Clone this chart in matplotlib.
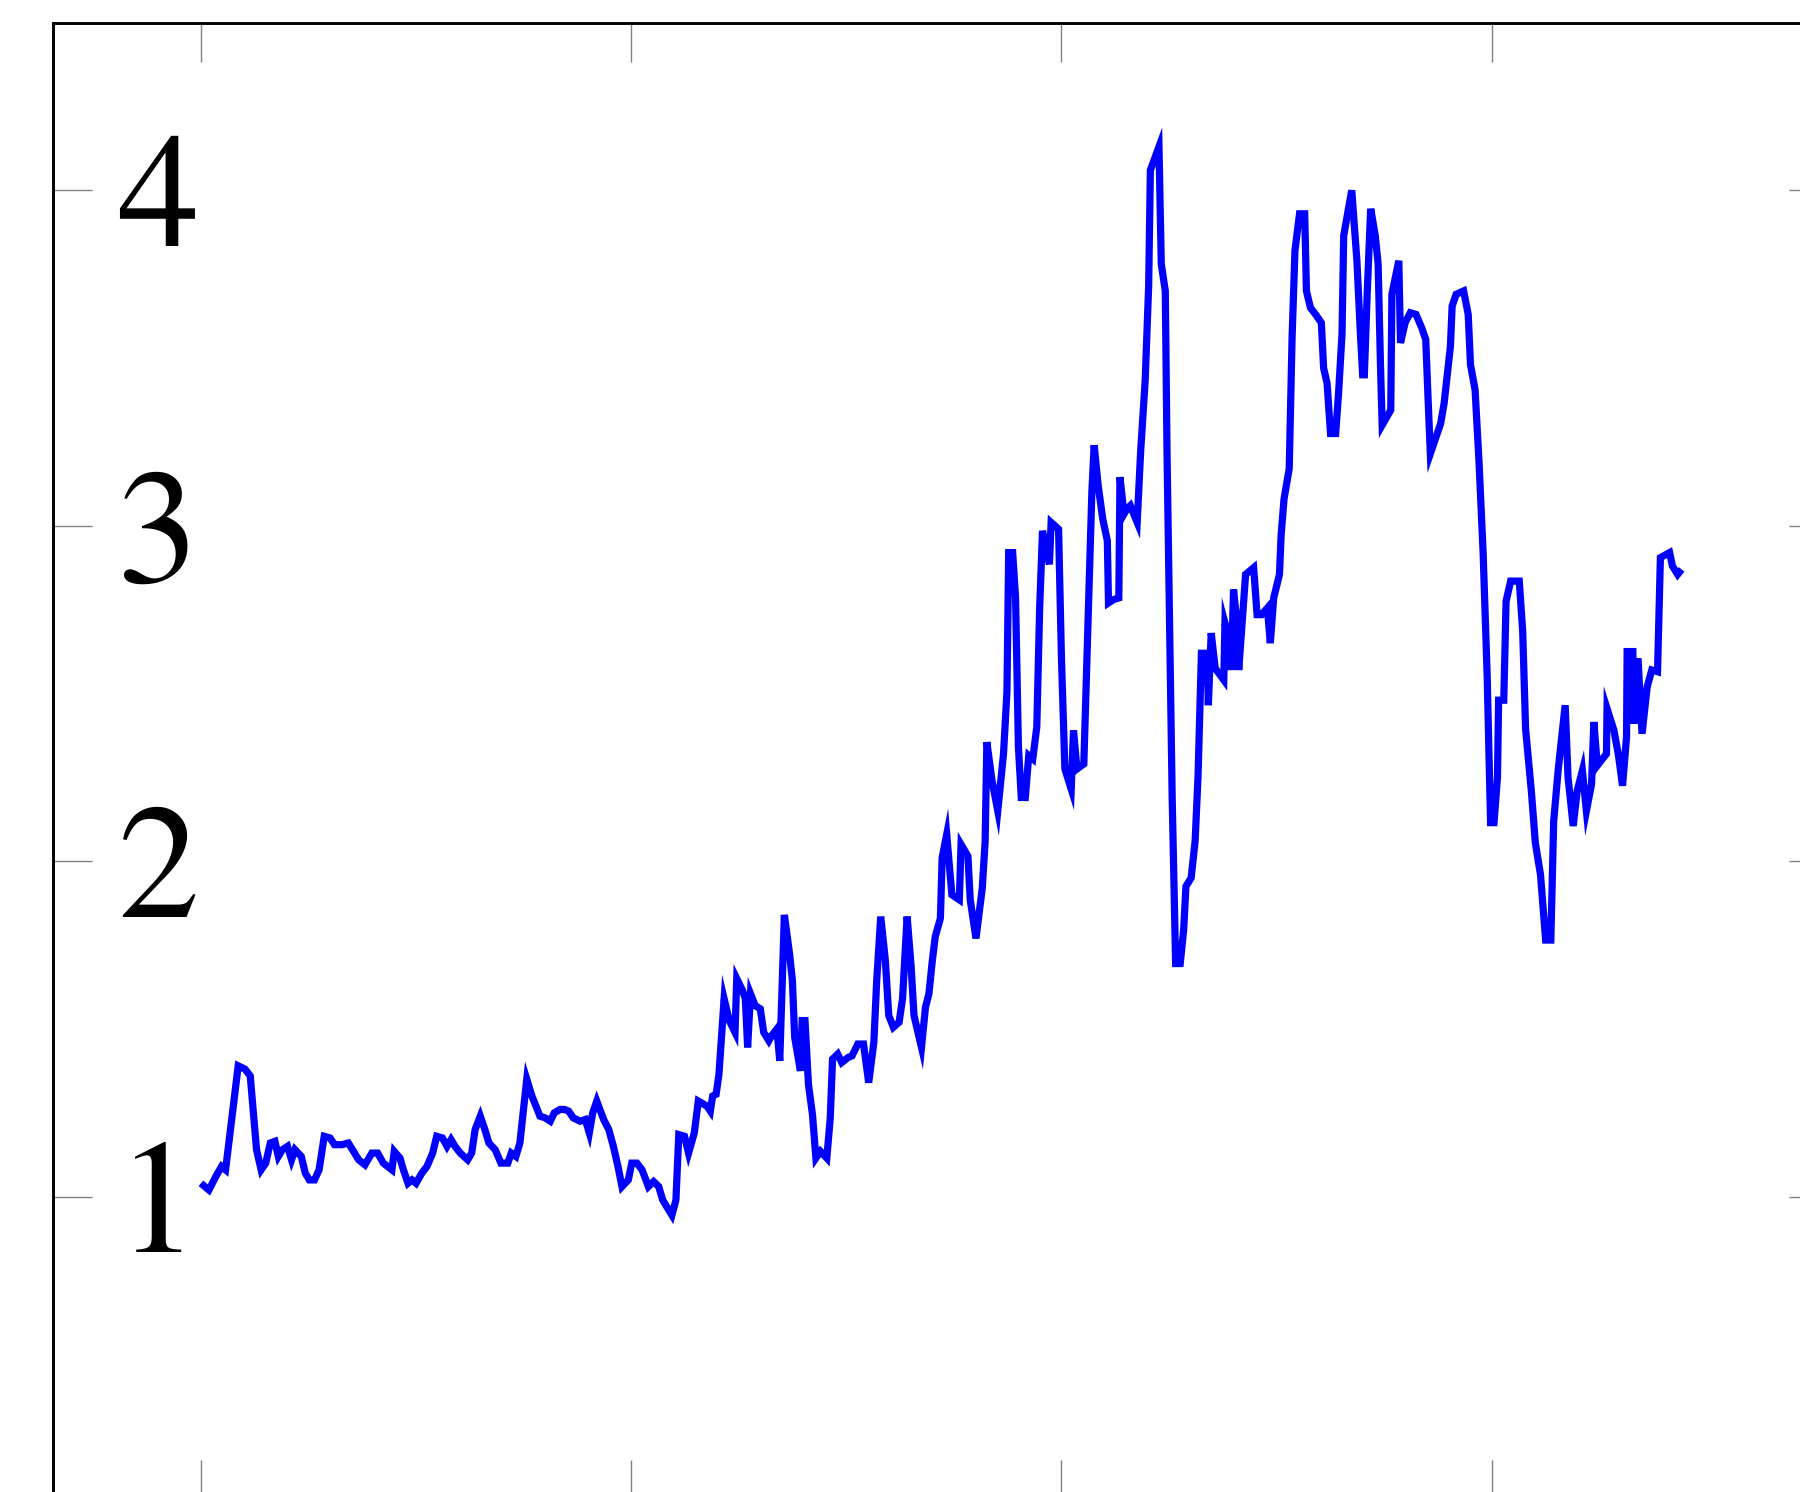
import matplotlib
matplotlib.use("Agg")
import matplotlib.pyplot as plt

# Times-like face for the large axis numerals, drawn without grid-fitting
plt.rcParams["text.hinting"] = "no_hinting"
plt.rcParams["text.hinting_factor"] = 1
plt.rcParams["font.family"] = ["FreeSerif", "Liberation Serif", "DejaVu Serif"]

# Observation positions (75 per major tick) and observed values
t = [
    0.0, 1.4, 2.6, 3.6, 4.3, 6.5, 7.7, 8.6, 9.7, 10.5, 11.3, 12.1, 12.9, 13.5,
    14.2, 15.1, 15.8, 16.4, 17.5, 18.2, 18.9, 19.8, 20.6, 21.5, 22.5, 23.3,
    24.6, 25.7, 26.6, 27.5, 28.6, 29.8, 30.8, 31.8, 33.3, 33.7, 34.7, 35.3,
    36.1, 36.8, 37.5, 38.5, 39.4, 40.4, 41.1, 42.1, 42.9,
    43.6, 44.3, 45.2, 46.5, 47.2, 47.8, 48.7, 49.5, 50.2, 51.3, 52.3, 53.5,
    54.1, 54.9, 55.6, 56.8, 57.7, 59.1, 60.0, 60.9, 61.6, 62.6, 63.4, 64.1,
    64.9, 66.1, 67.0, 67.7, 68.3, 69.0, 70.2, 71.1, 71.9, 72.7, 73.4, 74.5,
    75.1, 76.0, 76.9, 78.0, 78.9, 79.8, 80.5, 81.2, 82.1, 82.8, 83.3, 84.3,
    85.0, 86.0,
    86.7, 88.2, 88.8, 89.2, 89.8, 90.3, 91.2, 92.1, 93.1, 93.4, 94.4, 94.9,
    95.3, 95.8, 96.6, 97.5, 98.1, 99.0, 99.5, 100.4, 100.9, 101.7, 102.6,
    103.1, 103.5, 104.5, 104.8, 105.3, 105.9, 106.6, 107.2, 108.0, 109.1,
    109.7, 110.1, 111.0, 111.7, 112.8, 113.5, 114.5, 115.5, 116.4, 117.3,
    117.8, 118.5, 119.3, 119.9, 120.7, 121.7, 122.3, 123.1, 123.8, 124.3,
    125.6, 126.3, 126.9, 127.5, 128.0, 128.9, 129.2, 130.0,
    130.9, 132.2, 132.5, 133.7, 134.1, 135.1, 136.2, 136.7, 137.0, 137.9,
    138.9, 139.9, 140.5, 140.8, 141.5, 142.0, 142.5, 143.0, 143.7, 144.3,
    145.0, 145.7, 146.2, 146.7, 147.9, 148.2, 149.5, 150.0, 150.6, 151.7,
    152.1, 152.7, 153.9, 154.5, 155.3, 155.7, 156.4, 157.2, 158.0, 158.2,
    159.1, 160.0, 160.2, 160.9, 161.4, 162.0, 163.2, 163.8, 164.6, 165.2,
    165.5, 167.0, 167.4, 168.1, 168.4, 169.0, 169.3, 169.9, 170.7, 171.3,
    171.7, 172.6, 173.3, 173.8, 174.4, 175.4,
    175.6, 176.1, 176.8, 178.3, 178.5, 179.2, 179.6, 180.0, 180.4, 180.9,
    182.1, 183.5, 184.1, 184.9, 185.9, 186.4, 187.0, 188.0, 188.3, 188.8,
    189.7, 190.2, 190.7, 191.5, 192.4, 192.7, 193.4, 194.3, 195.3, 195.7,
    196.3, 196.9, 197.8, 198.3, 198.9, 199.2, 200.6, 201.5, 202.1, 202.5,
    202.8, 203.3, 203.9, 204.7, 205.2, 205.6, 205.9, 207.4, 207.6, 208.8,
    209.1, 209.9, 210.8, 211.8, 212.8, 213.5, 213.9, 214.3, 215.2, 216.1,
    216.7,
    217.8, 218.1, 218.8, 220.1, 220.9, 221.3, 222.1, 222.8, 223.5, 224.2,
    224.8, 225.4, 226.0, 226.2, 227.1, 227.5, 228.3, 229.8, 230.4, 230.9,
    231.9, 232.6, 233.5, 234.4, 235.3, 235.8, 236.6, 237.8, 238.3, 239.2,
    239.9, 240.8, 241.5, 242.4, 242.8, 243.4, 244.3, 245.0, 245.1, 246.3,
    247.1, 247.8, 248.5, 248.6, 249.6, 249.8, 250.5, 251.2, 252.1, 252.9,
    253.9, 254.4, 256.0, 256.5, 257.4, 258.1,
]

value = [
    1.04, 1.02, 1.06, 1.09, 1.08, 1.39, 1.38, 1.36, 1.14, 1.08, 1.10, 1.16,
    1.165, 1.12, 1.14, 1.15, 1.11, 1.14, 1.12, 1.07, 1.05, 1.05, 1.08, 1.18,
    1.175, 1.155, 1.155, 1.16, 1.135, 1.11, 1.095, 1.13, 1.13, 1.10, 1.08,
    1.135, 1.115, 1.08, 1.04, 1.05, 1.04, 1.07, 1.09, 1.13, 1.18, 1.175, 1.15,
    1.17, 1.15, 1.13, 1.11, 1.13, 1.20, 1.24, 1.20, 1.16, 1.14, 1.10, 1.10,
    1.13, 1.12, 1.16, 1.35, 1.30, 1.24, 1.235, 1.225, 1.25, 1.26, 1.26, 1.255,
    1.235, 1.225, 1.23, 1.19, 1.25, 1.285, 1.23, 1.20, 1.15, 1.09, 1.03, 1.05,
    1.10, 1.10, 1.08, 1.03, 1.045, 1.03, 0.99, 0.97, 0.945, 0.99, 1.185, 1.18,
    1.13, 1.19,
    1.285, 1.27, 1.255, 1.30, 1.305, 1.365, 1.59, 1.525, 1.49, 1.65, 1.615,
    1.59, 1.445, 1.605, 1.57, 1.56, 1.49, 1.465, 1.48, 1.50, 1.405, 1.84,
    1.725, 1.645, 1.475, 1.375, 1.525, 1.525, 1.335, 1.245, 1.115, 1.135,
    1.115, 1.235, 1.41, 1.425, 1.40, 1.415, 1.42, 1.455, 1.455, 1.34, 1.46,
    1.645, 1.835, 1.705, 1.54, 1.505, 1.52, 1.59, 1.835, 1.685, 1.54, 1.445,
    1.565, 1.605, 1.705, 1.775, 1.83, 2.01, 2.08,
    1.90, 1.885, 2.05, 2.015, 1.885, 1.77, 1.92, 2.06, 2.355, 2.24, 2.15,
    2.32, 2.505, 2.92, 2.92, 2.785, 2.34, 2.19, 2.19, 2.315, 2.305, 2.40,
    2.755, 2.985, 2.885, 3.01, 2.99, 2.605, 2.275, 2.215, 2.39, 2.275, 2.29,
    2.64, 3.10, 3.24, 3.12, 3.02, 2.955, 2.77, 2.78, 2.785, 3.145, 3.035,
    3.05, 3.06, 3.01, 3.22, 3.435, 3.715, 4.06, 4.13, 3.78, 3.70, 3.22, 2.52,
    2.19, 1.695, 1.695, 1.795, 1.925, 1.95, 2.06, 2.25, 2.62, 2.62,
    2.465, 2.68, 2.575, 2.54, 2.71, 2.665, 2.57, 2.81, 2.74, 2.57, 2.855,
    2.875, 2.735, 2.735, 2.755, 2.65, 2.785, 2.855, 2.975, 3.08, 3.17, 3.56,
    3.82, 3.93, 3.93, 3.70, 3.65, 3.63, 3.605, 3.47, 3.425, 3.275, 3.275,
    3.395, 3.57, 3.865, 4.00, 3.79, 3.575, 3.45, 3.45, 3.695, 3.945, 3.865,
    3.78, 3.485, 3.30, 3.345, 3.69, 3.79, 3.545, 3.605, 3.635, 3.63, 3.59,
    3.555, 3.38, 3.215, 3.26, 3.305, 3.365,
    3.535, 3.655, 3.69, 3.70, 3.63, 3.48, 3.405, 3.185, 2.92, 2.555, 2.115,
    2.115, 2.25, 2.48, 2.48, 2.775, 2.835, 2.835, 2.685, 2.395, 2.21, 2.055,
    1.96, 1.765, 1.765, 2.12, 2.275, 2.465, 2.25, 2.105, 2.21, 2.27, 2.15,
    2.23, 2.415, 2.285, 2.305, 2.32, 2.455, 2.39, 2.315, 2.225, 2.37, 2.625,
    2.625, 2.41, 2.605, 2.38, 2.52, 2.57, 2.565, 2.905, 2.92, 2.88, 2.855,
    2.87,
]

x_ticks = [0, 75, 150, 225]
y_ticks = [1, 2, 3, 4]
y_tick_labels = ["1", "2", "3", "4"]

fig = plt.figure(figsize=(18, 14.92), dpi=100)
ax = fig.add_axes([0.02922, -0.00442, 0.98661, 0.98929])

ax.plot(t, value, color="#0000ff", linewidth=5.2,
        solid_joinstyle="miter", solid_capstyle="butt", zorder=3)

ax.set_xlim(-25.85, 283.7)
ax.set_ylim(0.1, 4.5)

ax.set_xticks(x_ticks)
ax.set_xticklabels([])
ax.set_yticks(y_ticks)
ax.set_yticklabels(y_tick_labels, fontsize=117)

ax.tick_params(axis="both", which="major", direction="in", length=28,
               width=1.0, color="#808080", top=True, right=True)
ax.tick_params(axis="y", pad=-105)
ax.tick_params(axis="x", labelbottom=False)

for side in ("left", "right", "top", "bottom"):
    ax.spines[side].set_linewidth(2.1)
    ax.spines[side].set_color("black")

fig.savefig("out.png", dpi=100)
